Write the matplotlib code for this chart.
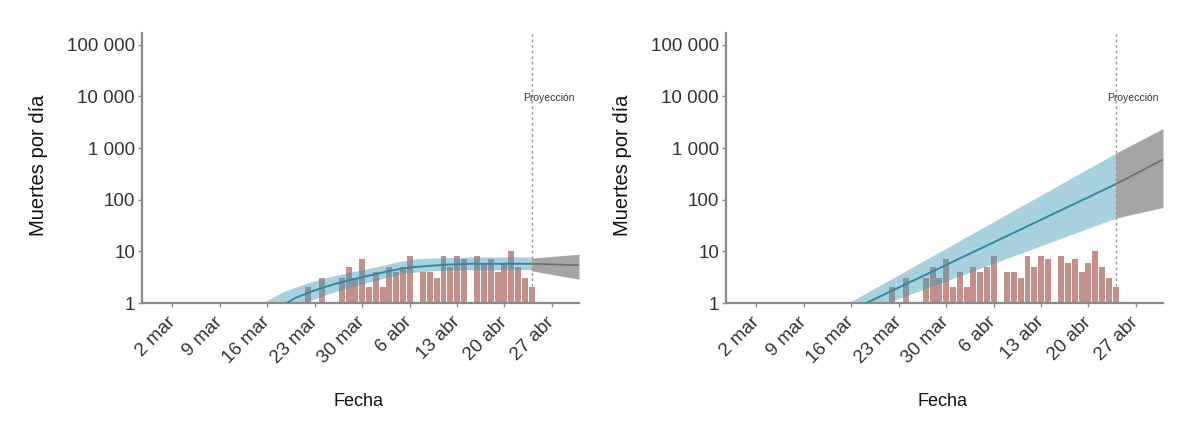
import matplotlib
matplotlib.use("Agg")
import matplotlib.pyplot as plt
import numpy as np
import pandas as pd

plt.rcParams['font.family'] = ['Liberation Sans', 'DejaVu Sans']

# ---------------- data ----------------
obs_start = "2020-03-22"
deaths = [2, 0, 3, 0, 0, 3, 5, 3, 7, 2, 4, 2, 5, 4, 5, 8, 0, 4, 4, 3, 8, 5, 8, 7, 0,
          8, 6, 7, 4, 6, 10, 5, 3, 2]

proj_date = "2020-04-24"

left_fit_dates = ["2020-03-14", "2020-03-16", "2020-03-18", "2020-03-20", "2020-03-22",
                  "2020-03-24", "2020-03-26", "2020-03-28", "2020-03-30", "2020-04-01",
                  "2020-04-03", "2020-04-05", "2020-04-07", "2020-04-09", "2020-04-11",
                  "2020-04-13", "2020-04-15", "2020-04-17", "2020-04-19", "2020-04-21",
                  "2020-04-24"]
left_fit_mid = [0.28, 0.5, 0.85, 1.23, 1.58, 1.95, 2.34, 2.75, 3.16, 3.63, 4.17, 4.68,
                5.01, 5.25, 5.5, 5.62, 5.75, 5.75, 5.75, 5.75, 5.75]
left_fit_hi = [0.7, 1.12, 1.58, 2.0, 2.45, 2.95, 3.4, 3.9, 4.4, 5.0, 5.75, 6.6, 7.2,
               7.4, 7.6, 7.6, 7.8, 7.8, 7.8, 7.8, 7.8]
left_fit_lo = [0.1, 0.22, 0.5, 0.8, 1.07, 1.35, 1.66, 2.0, 2.34, 2.75, 3.24, 3.72, 3.98,
               4.17, 4.27, 4.37, 4.4, 4.4, 4.4, 4.4, 4.4]

left_proj_dates = ["2020-04-24", "2020-05-01"]
left_proj_mid = [5.75, 5.4]
left_proj_hi = [7.4, 8.8]
left_proj_lo = [4.2, 2.9]

right_fit_dates = ["2020-03-15", "2020-04-24"]
right_fit_mid = [0.63, 200]
right_fit_hi = [0.91, 794]
right_fit_lo = [0.5, 44]

right_proj_dates = ["2020-04-24", "2020-05-01"]
right_proj_mid = [200, 600]
right_proj_hi = [794, 2400]
right_proj_lo = [44, 71]

tick_dates = ["2020-03-02", "2020-03-09", "2020-03-16", "2020-03-23", "2020-03-30",
              "2020-04-06", "2020-04-13", "2020-04-20", "2020-04-27"]
tick_labels = ["2 mar", "9 mar", "16 mar", "23 mar", "30 mar", "6 abr", "13 abr",
               "20 abr", "27 abr"]
y_ticks = [1, 10, 100, 1000, 10000, 100000]
y_labels = ["1", "10", "100", "1 000", "10 000", "100 000"]

# ---------------- style ----------------
BAR = "#c4908a"
BLUE = "#3f9ab6"
BLUE_LINE = "#2f8aa3"
GRAY = "#a5a5a5"
GRAY_LINE = "#6e6e6e"
SPINE = "#8a8a8a"
TXT = "#333333"

obs_dates = pd.date_range(obs_start, periods=len(deaths), freq="D")

fig = plt.figure(figsize=(11.98, 4.23), dpi=100)
axes = [fig.add_axes([142 / 1198, 120 / 423, 437 / 1198, 270 / 423]),
        fig.add_axes([726 / 1198, 120 / 423, 437 / 1198, 270 / 423])]

panels = [
    (left_fit_dates, left_fit_mid, left_fit_lo, left_fit_hi,
     left_proj_dates, left_proj_mid, left_proj_lo, left_proj_hi),
    (right_fit_dates, right_fit_mid, right_fit_lo, right_fit_hi,
     right_proj_dates, right_proj_mid, right_proj_lo, right_proj_hi),
]

for ax, (fd, fm, flo, fhi, pd_, pm, plo, phi) in zip(axes, panels):
    ax.set_yscale("log")
    d = np.array(deaths)
    mask = d > 0
    ax.bar(obs_dates[mask], d[mask], width=0.88, color=BAR, zorder=1)
    fdt = pd.to_datetime(fd)
    ax.fill_between(fdt, flo, fhi, color=BLUE, alpha=0.45, lw=0, zorder=2)
    ax.plot(fdt, fm, color=BLUE_LINE, lw=1.4, zorder=3)
    pdt = pd.to_datetime(pd_)
    ax.fill_between(pdt, plo, phi, color=GRAY, lw=0, zorder=2)
    ax.plot(pdt, pm, color=GRAY_LINE, lw=1.2, zorder=3)
    pdate = pd.Timestamp(proj_date)
    ax.axvline(pdate, color="#9a9a9a", lw=1, ls=(0, (2, 2)), zorder=4)
    ax.text(pdate - pd.Timedelta(days=1.3), 9200, "Proyección", fontsize=7.5,
            color=TXT, ha="left", va="center", zorder=5)

    ax.set_ylim(1, 10 ** 5.23)
    ax.set_xlim(pd.Timestamp("2020-02-26 12:00"), pd.Timestamp("2020-05-01"))
    ax.set_yticks(y_ticks)
    ax.set_yticklabels(y_labels)
    ax.yaxis.set_minor_locator(matplotlib.ticker.NullLocator())
    ax.set_xticks(pd.to_datetime(tick_dates))
    ax.set_xticklabels(tick_labels, rotation=45, ha="right", va="center",
                       rotation_mode="anchor")
    ax.tick_params(axis="both", colors=SPINE, labelcolor=TXT, labelsize=13.5,
                   length=3, width=1)
    ax.tick_params(axis="y", pad=2)
    ax.tick_params(axis="x", pad=9)
    for s in ["top", "right"]:
        ax.spines[s].set_visible(False)
    for s in ["left", "bottom"]:
        ax.spines[s].set_color(SPINE)
        ax.spines[s].set_linewidth(1.6)
    ax.set_ylabel("Muertes por día", fontsize=14.5, color="#111111")
    ax.yaxis.set_label_coords(-0.215, 0.51)
    ax.set_xlabel("Fecha", fontsize=13, color="#111111")
    ax.xaxis.set_label_coords(0.495, -0.335)

fig.savefig("out.png", dpi=100, facecolor="white")
